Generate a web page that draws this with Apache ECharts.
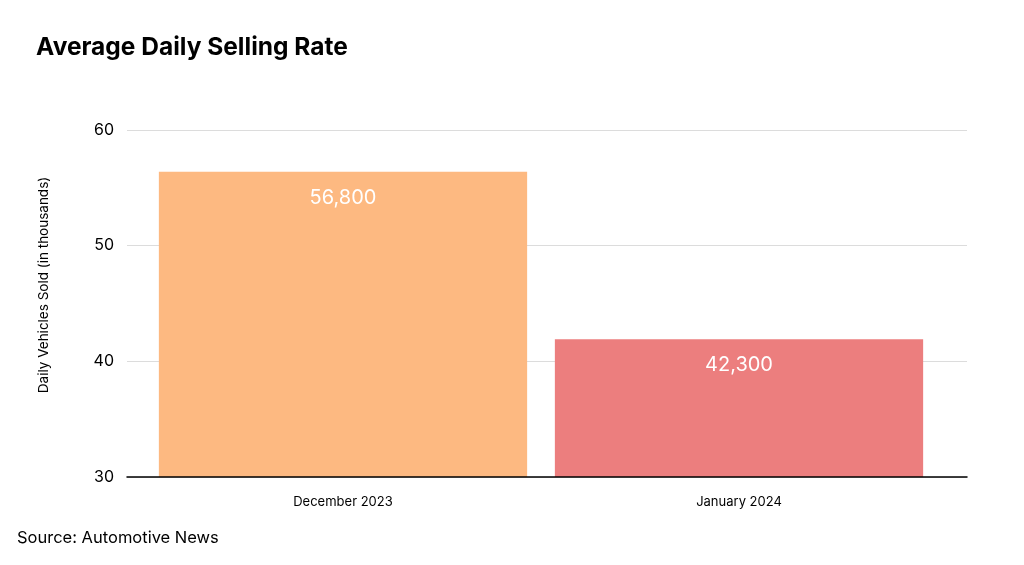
<!DOCTYPE html>
<html>
<head>
<meta charset="utf-8">
<title>Average Daily Selling Rate</title>
<script src="https://cdn.jsdelivr.net/npm/echarts@6/dist/echarts.min.js"></script>
<style>
  html, body { margin: 0; padding: 0; background: #fff; }
  #chart { width: 1024px; height: 565px; }
</style>
</head>
<body>
<div id="chart"></div>
<script>
// data
var categories = ['December 2023', 'January 2024'];
var sellingRate = [56.4, 41.9];           // bar heights, thousands per day
var barLabels = ['56,800', '42,300'];      // printed labels
var barColors = ['#FDB981', '#EC7E7E'];
var yTicks = [30, 40, 50, 60];

var font = 'Inter, "Noto Sans", sans-serif';

var chart = echarts.init(document.getElementById('chart'));

var option = {
    backgroundColor: '#fff',
    textStyle: { fontFamily: font },
    title: [
        {
            text: 'Average Daily Selling Rate',
            left: 31,
            top: 30,
            textStyle: { fontFamily: font, fontSize: 24.5, fontWeight: 'bold', color: '#000' }
        },
        {
            text: 'Source: Automotive News',
            left: 12,
            top: 525,
            textStyle: { fontFamily: font, fontSize: 16.5, fontWeight: 'normal', color: '#000' }
        }
    ],
    // y-axis title sits a bit above the plot centre in the original
    graphic: [
        {
            type: 'text',
            x: 44,
            y: 285,
            rotation: Math.PI / 2,
            style: {
                text: 'Daily Vehicles Sold (in thousands)',
                fontFamily: font,
                fontSize: 13.5,
                fill: '#000',
                align: 'center',
                verticalAlign: 'middle'
            }
        }
    ],
    grid: [
        { left: 127, right: 57, top: 130, bottom: 88 },
        { left: 145, right: 87, top: 130, bottom: 88 }
    ],
    xAxis: [
        {
            gridIndex: 0,
            type: 'category',
            data: categories,
            z: 5,
            axisLine: { show: true, lineStyle: { color: '#000', width: 1.5 } },
            axisTick: { show: false },
            axisLabel: { show: false }
        },
        {
            gridIndex: 1,
            type: 'category',
            data: categories,
            axisLine: { show: false },
            axisTick: { show: false },
            axisLabel: { margin: 19, fontSize: 13, color: '#000', fontFamily: font }
        }
    ],
    yAxis: [
        {
            gridIndex: 0,
            type: 'value',
            min: yTicks[0],
            max: yTicks[yTicks.length - 1],
            interval: 10,
            axisLine: { show: false },
            axisTick: { show: false },
            axisLabel: { margin: 13, fontSize: 16, color: '#000', fontFamily: font },
            splitLine: { lineStyle: { color: '#dcdcdc', width: 1 } }
        },
        {
            gridIndex: 1,
            type: 'value',
            min: yTicks[0],
            max: yTicks[yTicks.length - 1],
            interval: 10,
            show: false,
            splitLine: { show: false }
        }
    ],
    series: [
        {
            type: 'bar',
            xAxisIndex: 1,
            yAxisIndex: 1,
            barCategoryGap: '7%',
            data: sellingRate.map(function(v, i) {
                return { value: v, itemStyle: { color: barColors[i] } };
            }),
            label: {
                show: true,
                position: 'insideTop',
                distance: 16,
                fontSize: 20,
                color: '#fff',
                fontFamily: font,
                formatter: function(p) { return barLabels[p.dataIndex]; }
            }
        }
    ]
};

chart.setOption(option);

window.addEventListener('resize', function() {
    chart.resize();
});
</script>
</body>
</html>
